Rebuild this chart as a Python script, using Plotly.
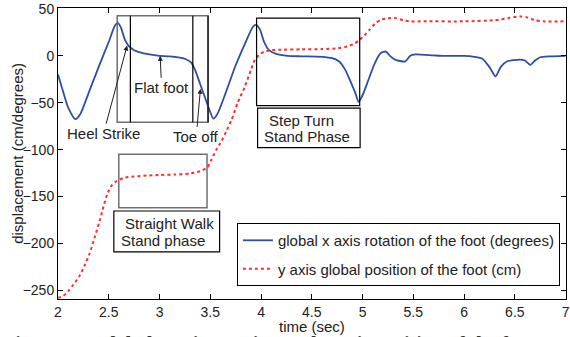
import plotly.graph_objects as go

# ---- data ----
t_rot = [2.00, 2.05, 2.10, 2.17, 2.22, 2.30, 2.40, 2.50, 2.56, 2.59, 2.62, 2.66, 2.70, 2.75, 2.80,
         2.90, 3.00, 3.10, 3.20, 3.26, 3.31, 3.35, 3.40, 3.45, 3.50, 3.53, 3.57, 3.65, 3.75, 3.85,
         3.92, 3.95, 3.99, 4.03, 4.08, 4.15, 4.26, 4.40, 4.60, 4.70, 4.77, 4.83, 4.88, 4.93, 4.96,
         5.00, 5.06, 5.12, 5.18, 5.23, 5.27, 5.32, 5.42, 5.47, 5.52, 5.70, 5.80, 5.90, 6.00, 6.10,
         6.18, 6.25, 6.31, 6.36, 6.42, 6.55, 6.60, 6.65, 6.70, 6.75, 6.85, 7.00]
rot_deg = [-20, -38, -55, -67.5, -62, -40, -12, 15, 32, 35, 30, 17, 10, 6, 4,
           1.5, 0, -0.5, -2, -3.6, -7, -15, -30, -45, -60, -67, -62, -40, -10, 15,
           31, 33, 28, 15, 6, 2, 0, -0.5, -1, -2.5, -6, -15, -27, -40, -49,
           -42, -25, -8, 3, 4.6, 0, -4, -6, 0, 1.5, 0.5, 0, 0, 0, -1,
           -3, -12, -22, -12, -6, -4, -5, -9.6, -5, -1.5, -0.5, 0]

t_pos = [2.00, 2.05, 2.10, 2.15, 2.21, 2.26, 2.31, 2.36, 2.41, 2.45, 2.49, 2.53, 2.57, 2.65, 2.75,
         2.90, 3.00, 3.15, 3.30, 3.40, 3.47, 3.51, 3.56, 3.61, 3.66, 3.71, 3.77, 3.84, 3.90, 3.94,
         3.98, 4.03, 4.10, 4.20, 4.40, 4.60, 4.75, 4.85, 4.92, 4.97, 5.02, 5.07, 5.12, 5.18, 5.25,
         5.33, 5.40, 5.46, 5.60, 6.00, 6.30, 6.45, 6.55, 6.62, 6.70, 6.78, 7.00]
pos_cm = [-258, -256, -251, -244, -235, -224, -211, -194, -176, -160, -146, -138, -134, -130, -128.5,
          -127.5, -127, -126.5, -125.5, -123, -119, -111, -100, -91, -80, -68, -50, -33, -15, -4,
          1, 4.5, 6, 6.5, 7, 7.2, 8, 10, 13, 17, 22, 28, 34, 38.5, 40,
          40.2, 38, 36.8, 36.8, 36.8, 38, 40.5, 42, 41, 38, 36.8, 36.8]

x_ticks = [2, 2.5, 3, 3.5, 4, 4.5, 5, 5.5, 6, 6.5, 7]
x_ticktext = ["2", "2.5", "3", "3.5", "4", "4.5", "5", "5.5", "6", "6.5", "7"]
y_ticks = [50, 0, -50, -100, -150, -200, -250]

names = ["global x axis rotation of the foot (degrees)",
         "y axis global position of the foot (cm)"]

FONT = "Liberation Sans, Arial, sans-serif"

fig = go.Figure()
fig.add_trace(go.Scatter(x=t_rot, y=rot_deg, mode="lines", name=names[0], legendgroup="a",
                         line=dict(color="#2E4FA3", width=1.8, shape="spline", smoothing=0.6)))
fig.add_trace(go.Scatter(x=t_pos, y=pos_cm, mode="lines", name=names[1], legendgroup="b",
                         line=dict(color="#FF2E2E", width=2, dash="dot", shape="spline", smoothing=0.6)))

GRAY = "#707070"
shapes = [
    # heel strike / flat foot / toe off boxes
    dict(type="rect", x0=2.583, x1=3.478, y0=-70.8, y1=42.7, line=dict(color=GRAY, width=1.5)),
    dict(type="line", x0=2.713, x1=2.713, y0=-70.8, y1=42.7, line=dict(color="black", width=1.2)),
    dict(type="line", x0=3.328, x1=3.328, y0=-70.8, y1=42.7, line=dict(color="black", width=1.2)),
    dict(type="line", x0=3.478, x1=3.478, y0=-70.8, y1=42.7, line=dict(color="black", width=1.2)),
    # step turn box and its label box
    dict(type="rect", x0=3.956, x1=4.972, y0=-53.0, y1=40.2, line=dict(color="black", width=1.2)),
    dict(type="rect", x0=3.966, x1=4.976, y0=-97.9, y1=-55.8, line=dict(color="black", width=1.2),
         fillcolor="white"),
    # straight walk box and its label box
    dict(type="rect", x0=2.599, x1=3.468, y0=-161.9, y1=-104.9, line=dict(color=GRAY, width=1.5)),
    dict(type="rect", x0=2.550, x1=3.592, y0=-208.9, y1=-165.4, line=dict(color="black", width=1.2),
         fillcolor="white"),
]
for s in shapes:
    s.update(xref="x", yref="y", layer="above")

txt = dict(family=FONT, size=15, color="#222222")
annotations = [
    dict(x=2.638, y=-178.6, text="Straight Walk", showarrow=False, xanchor="left", yanchor="middle", font=txt),
    dict(x=2.599, y=-196.4, text="Stand phase", showarrow=False, xanchor="left", yanchor="middle", font=txt),
    dict(x=4.054, y=-69.0, text="Step Turn", showarrow=False, xanchor="left", yanchor="middle", font=txt),
    dict(x=4.005, y=-86.1, text="Stand Phase", showarrow=False, xanchor="left", yanchor="middle", font=txt),
    dict(x=2.681, y=11, text="Heel Strike", showarrow=True, ax=-23.7, ay=88.3,
         arrowhead=2, arrowsize=1, arrowwidth=1, arrowcolor="#222", font=txt),
    dict(x=3.006, y=0, text="Flat foot", showarrow=True, ax=1.5, ay=32,
         arrowhead=2, arrowsize=1, arrowwidth=1, arrowcolor="#222", font=txt),
    dict(x=3.403, y=-35.2, text="Toe off", showarrow=True, ax=-4.2, ay=48,
         arrowhead=2, arrowsize=1, arrowwidth=1, arrowcolor="#222", font=txt),
    # axis titles
    dict(xref="paper", yref="paper", x=0.5, y=-0.093, text="time (sec)", showarrow=False,
         xanchor="center", yanchor="middle", font=dict(family=FONT, size=15, color="#222")),
    dict(xref="paper", yref="paper", x=-0.080, y=0.50, text="displacement (cm/degrees)", showarrow=False,
         textangle=-90, xanchor="center", yanchor="middle", font=dict(family=FONT, size=15, color="#222")),
    # caption (cut off at the bottom of the image)
    dict(xref="paper", yref="paper", x=-0.113, y=-0.110,
         text="<b>Figure 11: Global x axis rotation and y axis position of the foot</b>",
         showarrow=False, xanchor="left", yanchor="top",
         font=dict(family="Liberation Serif, Times New Roman, serif", size=20, color="#333")),
]

axis_common = dict(showline=True, linecolor="black", linewidth=1, mirror="ticks", ticks="inside",
                   ticklen=5, tickcolor="black", showgrid=False, zeroline=False,
                   tickfont=dict(family=FONT, size=14, color="#222"))

fig.update_layout(
    width=570, height=337,
    margin=dict(l=58, r=0, t=8, b=38),
    paper_bgcolor="white", plot_bgcolor="white",
    xaxis=dict(range=[2, 7.004], tickvals=x_ticks, ticktext=x_ticktext,
               ticklabeloverflow="allow", **axis_common),
    yaxis=dict(range=[-259.2, 51], tickvals=y_ticks, **axis_common),
    shapes=shapes,
    annotations=annotations,
    showlegend=True,
    legend=dict(x=0.988, y=0.261, xanchor="right", yanchor="top", bgcolor="white",
                bordercolor="black", borderwidth=1, tracegroupgap=6,
                font=dict(family=FONT, size=15, color="#222")),
)

fig.write_html("out.html")
